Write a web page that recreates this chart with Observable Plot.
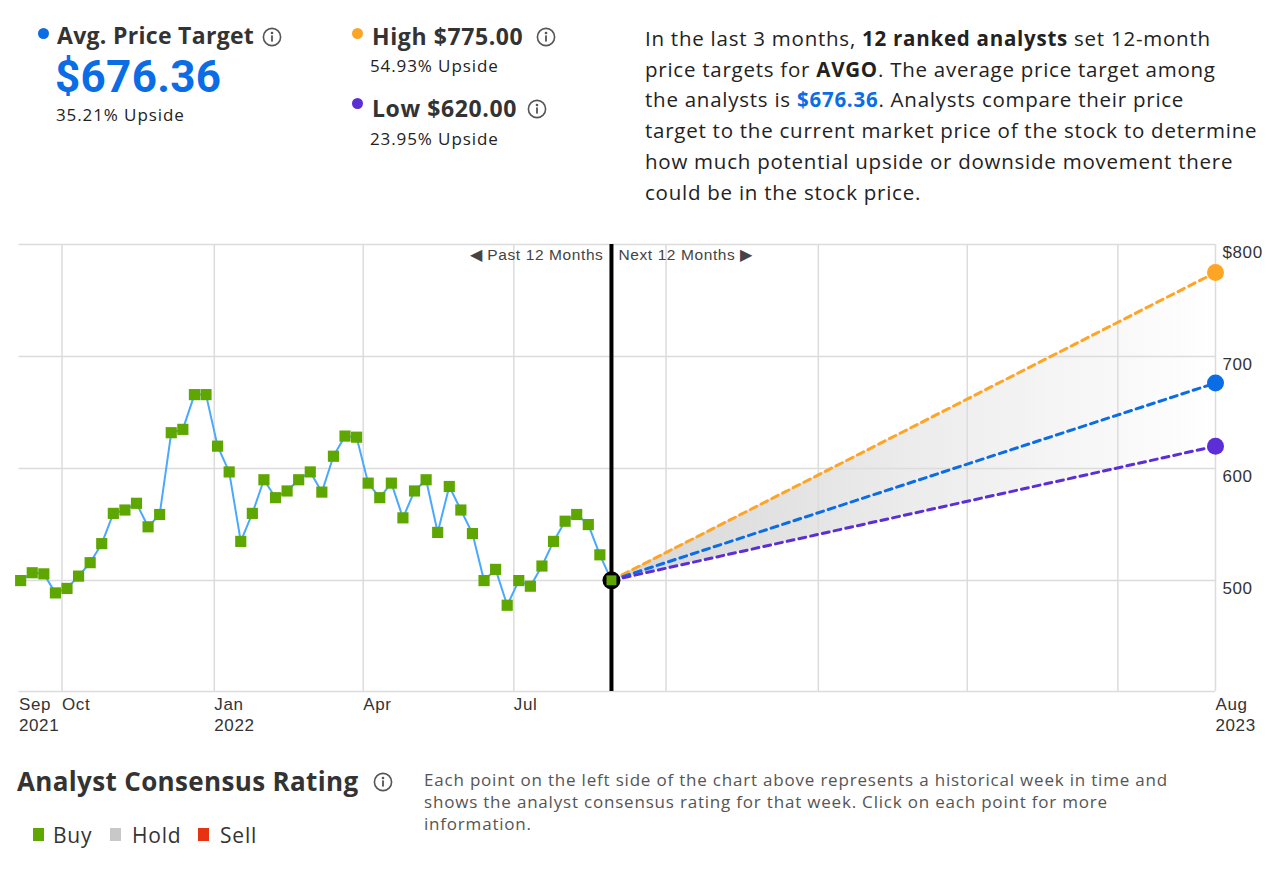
<!DOCTYPE html>
<html><head><meta charset="utf-8">
<script src="https://cdn.jsdelivr.net/npm/d3@7"></script>
<script src="https://cdn.jsdelivr.net/npm/@observablehq/plot@0.6"></script>
<style>
body{margin:0;background:#fff;width:1280px;height:869px;position:relative;overflow:hidden;font-family:"Open Sans",sans-serif;color:#222}
.abs{position:absolute;white-space:nowrap}
.dot{position:absolute;width:11px;height:11px;border-radius:50%}
.info{position:absolute;width:20px;height:20px}
.sq{position:absolute;width:11px;height:13px}
.h{font-size:23px;font-weight:700;color:#333;line-height:24px;letter-spacing:0.6px}
.up{font-size:17px;line-height:20px;color:#222;letter-spacing:0.9px}
#chart{position:absolute;left:0;top:230px}
#chart svg text{letter-spacing:0.6px}
</style></head>
<body>
<div class="dot" style="left:38px;top:28px;background:#0a6de6"></div>
<div class="abs h" style="left:57px;top:23px;letter-spacing:0.3px">Avg. Price Target</div>
<svg class="info" style="left:262px;top:27px" viewBox="0 0 20 20"><circle cx="10" cy="10" r="8.6" fill="none" stroke="#555" stroke-width="1.6"/><circle cx="10" cy="6" r="1.3" fill="#555"/><rect x="9.1" y="8.4" width="1.8" height="6.2" fill="#555"/></svg>
<div class="abs" style="left:55px;top:57px;font-family:Roboto,sans-serif;font-size:44px;font-weight:700;color:#0a6de6;line-height:40px;letter-spacing:0.3px">$676.36</div>
<div class="abs up" style="left:56px;top:105px">35.21% Upside</div>

<div class="dot" style="left:352px;top:28px;background:#ffa526"></div>
<div class="abs h" style="left:372px;top:24px">High $775.00</div>
<svg class="info" style="left:536px;top:27px" viewBox="0 0 20 20"><circle cx="10" cy="10" r="8.6" fill="none" stroke="#555" stroke-width="1.6"/><circle cx="10" cy="6" r="1.3" fill="#555"/><rect x="9.1" y="8.4" width="1.8" height="6.2" fill="#555"/></svg>
<div class="abs up" style="left:370px;top:56px">54.93% Upside</div>
<div class="dot" style="left:352px;top:98px;background:#5b2ed8"></div>
<div class="abs h" style="left:372px;top:96px">Low $620.00</div>
<svg class="info" style="left:527px;top:99px" viewBox="0 0 20 20"><circle cx="10" cy="10" r="8.6" fill="none" stroke="#555" stroke-width="1.6"/><circle cx="10" cy="6" r="1.3" fill="#555"/><rect x="9.1" y="8.4" width="1.8" height="6.2" fill="#555"/></svg>
<div class="abs up" style="left:370px;top:129px">23.95% Upside</div>

<div class="abs" style="left:645px;top:23px;font-size:20.5px;line-height:30.7px;color:#222;letter-spacing:0.75px">In the last 3 months, <b>12 ranked analysts</b> set 12-month<br>price targets for <b>AVGO</b>. The average price target among<br>the analysts is <b style="color:#0a6de6">$676.36</b>. Analysts compare their price<br>target to the current market price of the stock to determine<br>how much potential upside or downside movement there<br>could be in the stock price.</div>

<div id="chart"></div>

<div class="abs" style="left:17px;top:766px;font-size:26px;font-weight:700;color:#333;line-height:30px;letter-spacing:0.35px">Analyst Consensus Rating</div>
<svg class="info" style="left:373px;top:772px" viewBox="0 0 20 20"><circle cx="10" cy="10" r="8.6" fill="none" stroke="#555" stroke-width="1.6"/><circle cx="10" cy="6" r="1.3" fill="#555"/><rect x="9.1" y="8.4" width="1.8" height="6.2" fill="#555"/></svg>
<div class="abs" style="left:424px;top:769px;font-size:17px;line-height:22px;color:#555;letter-spacing:0.8px">Each point on the left side of the chart above represents a historical week in time and<br>shows the analyst consensus rating for that week. Click on each point for more<br>information.</div>
<div class="sq" style="left:33px;top:828px;background:#5ea600"></div>
<div class="abs" style="left:53px;top:823px;font-size:21px;line-height:24px;color:#333;letter-spacing:0.8px">Buy</div>
<div class="sq" style="left:110px;top:828px;background:#c8c8c8"></div>
<div class="abs" style="left:132px;top:823px;font-size:21px;line-height:24px;color:#333;letter-spacing:0.8px">Hold</div>
<div class="sq" style="left:198px;top:828px;background:#e63312"></div>
<div class="abs" style="left:220px;top:823px;font-size:21px;line-height:24px;color:#333;letter-spacing:0.8px">Sell</div>

<script>
// ---- data ----
const weeklyPrices = [500, 507, 506, 489, 493, 504, 516, 533, 560, 563, 569, 548, 559, 632, 635, 666, 666, 620,
  597, 535, 560, 590, 574, 580, 590, 597, 579, 611, 629, 628, 587, 574, 587, 556, 580,
  590, 543, 584, 563, 542, 500, 510, 478, 500, 495, 513, 535, 553, 559, 550, 523, 500.23];
const lastWeekDate = "2022-08-29";
const currentPrice = 500.23;
const targetDate = "2023-08-29";
const targetLabels = ["High", "Average", "Low"];
const targetValues = [775, 676.36, 620];
const targetColors = ["#ffa526", "#0a6de6", "#5b2ed8"];
const yTicks = [500, 600, 700, 800];
const yTickLabels = ["500", "600", "700", "$800"];
const xTickDates = ["2021-09-05", "2021-10-01", "2022-01-01", "2022-04-01", "2022-07-01", "2023-08-29"];
const xTickLabels = ["Sep\n2021", "Oct", "Jan\n2022", "Apr", "Jul", "Aug\n2023"];
const xGridDates = ["2021-10-01", "2022-01-01", "2022-04-01", "2022-07-01", "2022-10-01", "2023-01-01", "2023-04-01", "2023-07-01", "2023-08-29"];
const xDomain = ["2021-09-05", "2023-08-29"];
const yDomain = [401, 800];
const pastLabel = "◀ Past 12 Months";
const nextLabel = "Next 12 Months ▶";

// ---- derived tables ----
const now = new Date(lastWeekDate);
const tDate = new Date(targetDate);
const weeks = weeklyPrices.map((v, i) => ({date: d3.utcDay.offset(now, -7 * (weeklyPrices.length - 1 - i)), value: v}));
const targets = targetLabels.map((l, i) => ({label: l, value: targetValues[i]}));
const targetLines = targets.flatMap(t => [{label: t.label, date: now, value: currentPrice}, {label: t.label, date: tDate, value: t.value}]);
const fan = [{date: now, lo: currentPrice, hi: currentPrice}, {date: tDate, lo: targetValues[2], hi: targetValues[0]}];
const xTickMap = new Map(xTickDates.map((d, i) => [new Date(d).getTime(), xTickLabels[i]]));
const yTickMap = new Map(yTicks.map((d, i) => [d, yTickLabels[i]]));

const defs = () => {
  const ns = "http://www.w3.org/2000/svg";
  const g = document.createElementNS(ns, "defs");
  const lg = document.createElementNS(ns, "linearGradient");
  lg.setAttribute("id", "fanGrad");
  lg.setAttribute("x1", "0"); lg.setAttribute("x2", "1"); lg.setAttribute("y1", "0"); lg.setAttribute("y2", "0");
  [["0", "#d6d6d6"], ["0.5", "#ececec"], ["0.9", "#fbfbfb"], ["1", "#ffffff"]].forEach(([o, c]) => {
    const s = document.createElementNS(ns, "stop");
    s.setAttribute("offset", o); s.setAttribute("stop-color", c);
    lg.appendChild(s);
  });
  g.appendChild(lg);
  return g;
};

const grid = {stroke: "#dcdcdc", strokeOpacity: 1, strokeWidth: 1.5};

const chart = Plot.plot({
  width: 1280, height: 510,
  marginLeft: 18.5, marginRight: 65, marginTop: 14, marginBottom: 49,
  x: {type: "utc", domain: xDomain.map(d => new Date(d))},
  y: {domain: yDomain},
  color: {domain: targetLabels, range: targetColors},
  style: {fontFamily: "'Liberation Sans', Arial, sans-serif", fontSize: "17px", color: "#333", background: "transparent", overflow: "visible"},
  marks: [
    defs,
    Plot.areaY(fan, {x: "date", y1: "lo", y2: "hi", fill: "url(#fanGrad)"}),
    Plot.gridY(yTicks, grid),
    Plot.gridX(xGridDates.map(d => new Date(d)), grid),
    Plot.ruleY([yDomain[0]], grid),
    Plot.axisY(yTicks, {anchor: "right", tickSize: 0, tickPadding: 7, dy: 8, tickFormat: d => yTickMap.get(d), fontSize: 17, fill: "#333"}),
    Plot.axisX(xTickDates.map(d => new Date(d)), {anchor: "bottom", tickSize: 0, tickPadding: 3, textAnchor: "start", lineHeight: 1.25, tickFormat: d => xTickMap.get(d.getTime()), fontSize: 17, fill: "#333"}),
    Plot.line(targetLines, {x: "date", y: "value", z: "label", stroke: "label", strokeWidth: 3, strokeDasharray: "7,5"}),
    Plot.dot(targets, {x: () => tDate, y: "value", r: 8.5, fill: "label"}),
    Plot.ruleX([now], {stroke: "#000", strokeWidth: 4}),
    Plot.text([now], {x: d => d, frameAnchor: "top", text: () => pastLabel, textAnchor: "end", dx: -8, dy: 4, fontSize: 15.5, fill: "#444"}),
    Plot.text([now], {x: d => d, frameAnchor: "top", text: () => nextLabel, textAnchor: "start", dx: 7, dy: 4, fontSize: 15.5, fill: "#444"}),
    Plot.line(weeks, {x: "date", y: "value", stroke: "#4aa8ff", strokeWidth: 2}),
    Plot.dot(weeks, {x: "date", y: "value", symbol: "square", r: 6.3, fill: "#5ea600"}),
    Plot.dot(weeks.slice(-1), {x: "date", y: "value", r: 9, fill: "#000"}),
    Plot.dot(weeks.slice(-1), {x: "date", y: "value", symbol: "square", r: 5.6, fill: "#5ea600"})
  ]
});
document.getElementById("chart").appendChild(chart);
</script>
</body></html>
